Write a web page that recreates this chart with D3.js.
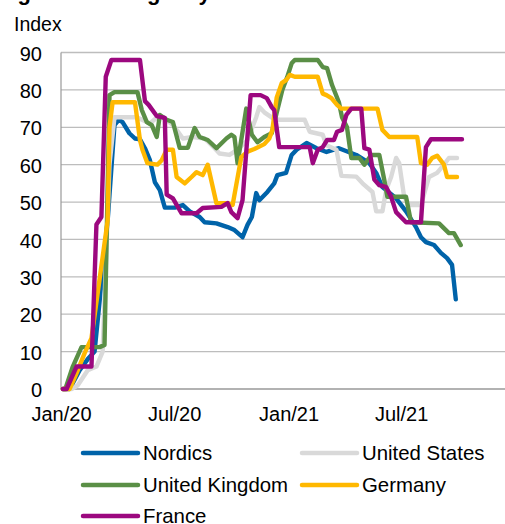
<!DOCTYPE html>
<html>
<head>
<meta charset="utf-8">
<script src="https://cdnjs.cloudflare.com/ajax/libs/d3/7.8.5/d3.min.js"></script>
<style>
body { margin: 0; background: #fff; }
svg text { font-family: "Liberation Sans", Arial, Helvetica, sans-serif; fill: #000; }
</style>
</head>
<body>
<div id="chart"></div>
<script>
// series values: [date, index]
var nordics = [
  ["2020-01-04",0],["2020-01-15",0],["2020-01-31",5],["2020-02-13",8],["2020-02-24",10],
  ["2020-03-16",45],["2020-03-27",70.6],["2020-04-03",72],["2020-04-09",71.4],["2020-04-20",68.4],
  ["2020-04-29",67],["2020-05-07",66.8],["2020-05-15",64.4],["2020-05-23",61.2],["2020-05-31",55.3],
  ["2020-06-08",53.2],["2020-06-16",48.5],["2020-07-02",48.5],["2020-07-15",49.2],["2020-07-26",47.5],
  ["2020-08-11",46],["2020-08-19",44.6],["2020-09-07",44.3],["2020-09-25",43.3],["2020-10-06",42.5],
  ["2020-10-19",40.6],["2020-10-27",43.9],["2020-11-03",46],["2020-11-10",52.4],["2020-11-15",50.5],
  ["2020-11-28",52.7],["2020-12-09",55],["2020-12-14",57.2],["2020-12-28",57.8],["2021-01-06",62.6],
  ["2021-01-14",64],["2021-01-30",65.8],["2021-02-15",64.4],["2021-03-03",63.4],["2021-03-23",64.4],
  ["2021-04-20",62.6],["2021-05-11",60.4],["2021-05-22",57.8],["2021-06-01",54],["2021-06-23",51],
  ["2021-07-09",47.5],["2021-07-25",43.3],["2021-08-02",40.6],["2021-08-10",39.3],["2021-08-23",38.5],
  ["2021-09-03",36.4],["2021-09-13",35],["2021-09-21",33.2],["2021-09-27",24]
];
var unitedStates = [
  ["2020-01-04",0],["2020-01-18",0],["2020-01-28",1],["2020-02-13",5],["2020-02-27",6],
  ["2020-03-08",10],["2020-03-19",60],["2020-03-27",72.7],["2020-05-02",72.7],["2020-05-23",71],
  ["2020-06-08",73.3],["2020-06-29",70.6],["2020-07-05",69.3],["2020-07-15",67],["2020-07-31",67.4],
  ["2020-08-19",67],["2020-09-04",64.4],["2020-09-12",63],["2020-09-28",62.6],["2020-10-11",64],
  ["2020-10-27",66.6],["2020-11-10",72.7],["2020-11-15",75.4],["2020-11-23",74],["2020-12-06",72.5],
  ["2020-12-17",72],["2021-01-27",72],["2021-02-04",68.8],["2021-02-25",68],["2021-03-03",65.2],
  ["2021-03-19",64],["2021-03-27",57],["2021-04-20",56.8],["2021-04-30",55],["2021-05-16",52.7],
  ["2021-05-22",47.5],["2021-06-01",47.5],["2021-06-07",53.2],["2021-06-15",56.7],["2021-06-23",61.8],
  ["2021-06-28",60.4],["2021-07-06",51.4],["2021-07-14",49.2],["2021-08-02",49.2],["2021-08-15",56.7],
  ["2021-08-28",57.8],["2021-09-08",60],["2021-09-16",61.8],["2021-09-29",61.8]
];
var unitedKingdom = [
  ["2020-01-04",0],["2020-01-08",0],["2020-01-20",6],["2020-02-03",11.2],["2020-03-03",11.2],
  ["2020-03-11",11.8],["2020-03-19",78.6],["2020-03-27",79.4],["2020-05-03",79.4],["2020-05-10",74.6],
  ["2020-05-18",71.4],["2020-05-26",70.6],["2020-06-03",67.4],["2020-06-08",73.3],["2020-06-19",72],
  ["2020-06-29",71.4],["2020-07-10",64.5],["2020-07-23",64.5],["2020-08-03",69.8],["2020-08-11",67.4],
  ["2020-08-24",66.6],["2020-09-07",64.4],["2020-09-23",67],["2020-10-01",68],["2020-10-06",67.4],
  ["2020-10-11",60.4],["2020-10-25",75],["2020-11-03",68],["2020-11-12",66],["2020-11-23",67.4],
  ["2020-12-05",68.4],["2020-12-14",74.6],["2020-12-22",80],["2020-12-30",83.5],["2021-01-06",87.1],
  ["2021-01-11",88],["2021-02-17",88],["2021-02-25",86.1],["2021-03-04",85.8],["2021-03-12",81.3],
  ["2021-03-23",76.7],["2021-03-28",72.7],["2021-04-05",70],["2021-04-12",61.8],["2021-04-25",61.8],
  ["2021-05-03",60],["2021-05-14",62.6],["2021-05-27",62.6],["2021-06-04",55.9],["2021-06-09",51.4],
  ["2021-07-09",51.4],["2021-07-17",44.6],["2021-08-31",44.3],["2021-09-16",41.7],["2021-09-24",41.7],
  ["2021-10-05",38.5]
];
var germany = [
  ["2020-01-04",0],["2020-01-15",0],["2020-01-28",5],["2020-02-08",9.6],["2020-02-19",13.6],
  ["2020-03-16",45],["2020-03-19",70],["2020-03-24",76.7],["2020-04-29",76.7],["2020-05-07",66.6],
  ["2020-05-11",64],["2020-05-19",60.4],["2020-06-04",60],["2020-06-11",61.2],["2020-06-19",64],
  ["2020-06-29",64],["2020-07-05",56.7],["2020-07-18",55],["2020-07-29",56.7],["2020-08-06",58],
  ["2020-08-16",57.2],["2020-08-24",60],["2020-09-07",49.7],["2020-09-25",49.7],["2020-10-03",49.2],
  ["2020-10-17",62],["2020-10-27",63.5],["2020-11-07",64.2],["2020-11-23",65.5],["2020-12-01",67],
  ["2020-12-06",69.3],["2020-12-13",78],["2020-12-21",81.8],["2020-12-28",82.6],["2021-01-03",84],
  ["2021-01-11",83.5],["2021-02-17",83.5],["2021-02-25",79],["2021-03-03",78.6],["2021-03-11",77.8],
  ["2021-03-20",76],["2021-03-27",75],["2021-05-24",75],["2021-06-01",69.3],["2021-06-12",67.4],
  ["2021-07-27",67.4],["2021-08-02",60.4],["2021-08-12",60],["2021-08-20",61.8],["2021-08-28",62.4],
  ["2021-09-08",60],["2021-09-13",56.7],["2021-09-29",56.7]
];
var france = [
  ["2020-01-04",0],["2020-01-10",0],["2020-01-26",6],["2020-02-19",6],["2020-02-27",44],
  ["2020-03-06",46],["2020-03-13",83.5],["2020-03-22",88],["2020-05-07",88],["2020-05-15",77],
  ["2020-05-21",76],["2020-06-03",73],["2020-06-16",72.5],["2020-06-19",52],["2020-06-29",51],
  ["2020-07-13",47],["2020-08-06",47],["2020-08-16",48.4],["2020-09-15",48.7],["2020-09-25",49.7],
  ["2020-10-01",47.3],["2020-10-11",45.7],["2020-10-19",50.5],["2020-11-01",78.6],["2020-11-17",78.6],
  ["2020-11-27",77.8],["2020-12-05",75.4],["2020-12-09",74.6],["2020-12-17",64.7],["2021-02-04",64.7],
  ["2021-02-09",60.4],["2021-02-17",64],["2021-02-25",64.7],["2021-03-04",66.6],["2021-03-15",66.6],
  ["2021-03-20",68.8],["2021-03-28",69.3],["2021-04-04",73.3],["2021-04-12",75],["2021-04-28",75],
  ["2021-05-03",64.4],["2021-05-11",64],["2021-05-19",56],["2021-05-27",54.5],["2021-06-07",54],
  ["2021-06-15",51.4],["2021-06-23",47.3],["2021-07-09",44.6],["2021-08-02",44.6],["2021-08-10",64.7],
  ["2021-08-18",66.8],["2021-10-07",66.8]
];

var seriesNames = ["Nordics", "United States", "United Kingdom", "Germany", "France"];
var seriesData = [nordics, unitedStates, unitedKingdom, germany, france];
var seriesColors = ["#0063a9", "#d9d9d9", "#5a8f46", "#ffb800", "#9c087f"];
var yTicks = [0, 10, 20, 30, 40, 50, 60, 70, 80, 90];
var xTicks = ["2020-01-01", "2020-07-01", "2021-01-01", "2021-07-01"];
var xTickLabels = ["Jan/20", "Jul/20", "Jan/21", "Jul/21"];

var W = 505, H = 524;
var margin = {top: 52.5, left: 61, bottom: 135};
var parseDate = d3.timeParse("%Y-%m-%d");

var svg = d3.select("#chart").append("svg")
  .attr("width", W)
  .attr("height", H);

// title is cut off at the top of the picture, only the descenders show
svg.append("text")
  .attr("x", -2)
  .attr("y", 0)
  .style("font-size", "22px")
  .style("font-weight", "bold")
  .text("Figure 1: Stringency");

svg.append("text")
  .attr("x", 14)
  .attr("y", 31)
  .style("font-size", "19.5px")
  .text("Index");

var x = d3.scaleTime()
  .domain([parseDate("2020-01-01"), parseDate("2021-12-20")])
  .range([margin.left, 508]);

var y = d3.scaleLinear()
  .domain([0, 90])
  .range([389, margin.top]);

// gridlines
svg.append("g")
  .selectAll("line")
  .data(yTicks.filter(d => d > 0))
  .enter().append("line")
  .attr("x1", margin.left)
  .attr("x2", W)
  .attr("y1", d => y(d))
  .attr("y2", d => y(d))
  .attr("stroke", "#bdbdbd")
  .attr("stroke-width", 1.3);

// axis lines
svg.append("line")
  .attr("x1", margin.left).attr("x2", margin.left)
  .attr("y1", y(90)).attr("y2", y(0))
  .attr("stroke", "#999").attr("stroke-width", 1.2);
svg.append("line")
  .attr("x1", margin.left).attr("x2", W)
  .attr("y1", y(0)).attr("y2", y(0))
  .attr("stroke", "#999").attr("stroke-width", 1.3);

// y axis labels
var yAxis = svg.append("g")
  .attr("transform", `translate(${margin.left},0)`)
  .call(d3.axisLeft(y).tickValues(yTicks).tickSize(0).tickPadding(19));
yAxis.select(".domain").remove();
yAxis.selectAll("text")
  .style("font-size", "20px")
  .attr("dy", "0.38em");

// x axis labels
var xAxis = svg.append("g")
  .attr("transform", `translate(0,${y(0)})`)
  .call(d3.axisBottom(x)
    .tickValues(xTicks.map(parseDate))
    .tickFormat((d, i) => xTickLabels[i])
    .tickSize(0)
    .tickPadding(18));
xAxis.select(".domain").remove();
xAxis.selectAll("text")
  .style("font-size", "20px");

// lines
var line = d3.line()
  .x(d => x(parseDate(d[0])))
  .y(d => y(d[1]));

svg.append("g")
  .selectAll("path")
  .data(seriesData)
  .enter().append("path")
  .attr("d", d => line(d))
  .attr("fill", "none")
  .attr("stroke", (d, i) => seriesColors[i])
  .attr("stroke-width", 4.4)
  .attr("stroke-linejoin", "round")
  .attr("stroke-linecap", "round");

// legend, two columns
var legendPos = [[83, 453], [302, 453], [83, 485], [302, 485], [83, 516]];
var legend = svg.append("g")
  .selectAll("g")
  .data(seriesNames)
  .enter().append("g")
  .attr("transform", (d, i) => `translate(${legendPos[i][0]},${legendPos[i][1]})`);

legend.append("line")
  .attr("x1", 0).attr("x2", 55)
  .attr("stroke", (d, i) => seriesColors[i])
  .attr("stroke-width", 4.5)
  .attr("stroke-linecap", "round");

legend.append("text")
  .attr("x", 60)
  .attr("dy", "0.36em")
  .style("font-size", "20.4px")
  .text(d => d);
</script>
</body>
</html>
